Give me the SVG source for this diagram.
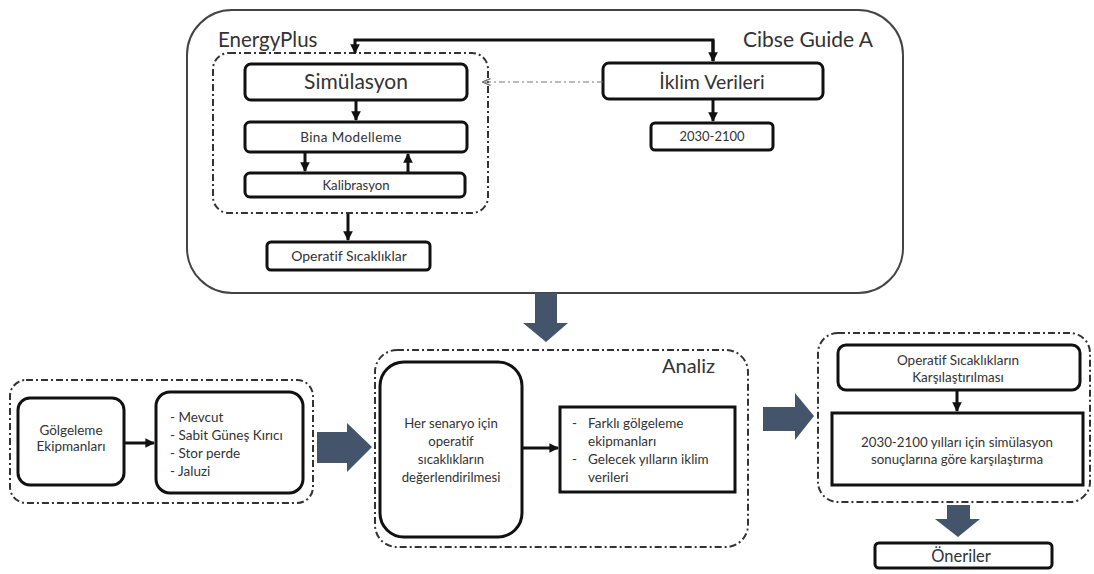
<svg xmlns="http://www.w3.org/2000/svg" width="1094" height="574" viewBox="0 0 1094 574">
<defs>
<style>
.box{fill:#fff;stroke:#111;stroke-width:3}
.grp{fill:none;stroke:#333;stroke-width:2;stroke-dasharray:7 3 2 3}
.outer{fill:#fff;stroke:#444;stroke-width:2}
.t{font-family:Lato,"Liberation Sans",sans-serif;fill:#333;text-anchor:middle;font-variant-ligatures:none}
.ts{font-family:Lato,"Liberation Sans",sans-serif;fill:#333;font-variant-ligatures:none}
.c{fill:none;stroke:#111;stroke-width:3}
.big{fill:#44546a}
</style>
<marker id="ah" viewBox="0 0 10 10" refX="9" refY="5" markerWidth="3.2" markerHeight="3.2" orient="auto" markerUnits="strokeWidth"><path d="M0,0 L10,5 L0,10 z" fill="#111"/></marker>
<marker id="ahg" viewBox="0 0 10 10" refX="9" refY="5" markerWidth="7" markerHeight="7" orient="auto" markerUnits="strokeWidth"><path d="M0,1 L10,5 L0,9" fill="none" stroke="#666" stroke-width="1.5"/></marker>
</defs>
<rect width="1094" height="574" fill="#fff"/>

<g id="energyplus-container">
<rect class="outer" x="187" y="10" width="716" height="283" rx="45" ry="45"/>
<text class="ts" x="218" y="47" font-size="20.5">EnergyPlus</text>
<text class="ts" x="743" y="47" font-size="21">Cibse Guide A</text>
</g>

<g id="simulation-group">
<rect class="grp" x="213" y="53" width="275" height="160" rx="16"/>
</g>
<g id="simulasyon"><rect class="box" x="245" y="64" width="222" height="36" rx="6"/><text class="t" x="356" y="89" font-size="21">Simülasyon</text></g>
<g id="bina-modelleme"><rect class="box" x="245" y="122" width="222" height="30" rx="5"/><text class="t" x="351" y="142" font-size="13.5" letter-spacing="0.4">Bina Modelleme</text></g>
<g id="kalibrasyon"><rect class="box" x="245" y="173" width="220" height="24" rx="5"/><text class="t" x="356" y="190" font-size="13.2">Kalibrasyon</text></g>
<g id="operatif-sicakliklar"><rect class="box" x="267" y="242" width="163" height="28" rx="4"/><text class="t" x="349" y="261" font-size="14">Operatif Sıcaklıklar</text></g>
<g id="iklim-verileri"><rect class="box" x="603" y="63" width="220" height="36" rx="6"/><text class="t" x="712" y="89" font-size="19.5">İklim Verileri</text></g>
<g id="yil-2030-2100"><rect class="box" x="651" y="123" width="122" height="27" rx="4"/><text class="t" x="712" y="141" font-size="13">2030-2100</text></g>

<g id="shading-group"><rect class="grp" x="10" y="380" width="303" height="123" rx="16"/></g>
<g id="golgeleme"><rect class="box" x="18" y="398" width="106" height="87" rx="12"/><text class="t" x="71" y="435" font-size="13.5">Gölgeleme</text><text class="t" x="71" y="451" font-size="13.5">Ekipmanları</text></g>
<g id="liste"><rect class="box" x="156" y="392" width="147" height="101" rx="14"/>
<text class="ts" x="170" y="422" font-size="13.5">- Mevcut</text>
<text class="ts" x="170" y="440" font-size="13.5">- Sabit Güneş Kırıcı</text>
<text class="ts" x="170" y="458" font-size="13.5">- Stor perde</text>
<text class="ts" x="170" y="476" font-size="13.5">- Jaluzi</text></g>

<g id="analiz-group"><rect class="grp" x="375" y="350" width="373" height="197" rx="22"/><text class="ts" x="662" y="373" font-size="20">Analiz</text></g>
<g id="her-senaryo"><rect class="box" x="380" y="362" width="142" height="175" rx="24"/>
<text class="t" x="451" y="428" font-size="13.2">Her senaryo için</text>
<text class="t" x="451" y="446" font-size="13.2">operatif</text>
<text class="t" x="451" y="464" font-size="13.2">sıcaklıkların</text>
<text class="t" x="451" y="482" font-size="13.2">değerlendirilmesi</text></g>
<g id="farkli"><rect class="box" x="560" y="407" width="175" height="85"/>
<text class="ts" x="572" y="428" font-size="13.5">-</text>
<text class="ts" x="588" y="428" font-size="13.5">Farklı gölgeleme</text>
<text class="ts" x="588" y="446" font-size="13.5">ekipmanları</text>
<text class="ts" x="572" y="464" font-size="13.5">-</text>
<text class="ts" x="588" y="464" font-size="13.5">Gelecek yılların iklim</text>
<text class="ts" x="588" y="482" font-size="13.5">verileri</text></g>

<g id="karsilastirma-group"><rect class="grp" x="818" y="333" width="272" height="169" rx="20"/></g>
<g id="operatif-karsilastirma"><rect class="box" x="838" y="345" width="242" height="45" rx="8"/>
<text class="t" x="958" y="365" font-size="13.5">Operatif Sıcaklıkların</text>
<text class="t" x="958" y="382" font-size="13.5">Karşılaştırılması</text></g>
<g id="simulasyon-karsilastirma"><rect class="box" x="832" y="413" width="251" height="72"/>
<text class="t" x="957" y="447" font-size="13.3">2030-2100 yılları için simülasyon</text>
<text class="t" x="957" y="464" font-size="13.3">sonuçlarına göre karşılaştırma</text></g>
<g id="oneriler"><rect class="box" x="875" y="543" width="177" height="25" rx="4"/><text class="t" x="961" y="562" font-size="16.5">Öneriler</text></g>

<g id="connectors">
<path class="c" d="M713,61 V40 H355 V53" marker-end="url(#ah)"/>
<path class="c" d="M713,40 V61" marker-end="url(#ah)"/>
<line x1="603" y1="82" x2="483" y2="82" stroke="#777" stroke-width="1.2" stroke-dasharray="6 3 2 3" marker-end="url(#ahg)"/>
<line class="c" x1="356" y1="100" x2="356" y2="120" marker-end="url(#ah)"/>
<line class="c" x1="305" y1="152" x2="305" y2="171" marker-end="url(#ah)"/>
<line class="c" x1="408" y1="173" x2="408" y2="154" marker-end="url(#ah)"/>
<line class="c" x1="348" y1="214" x2="348" y2="240" marker-end="url(#ah)"/>
<line class="c" x1="713" y1="99" x2="713" y2="121" marker-end="url(#ah)"/>
<line class="c" x1="124" y1="443" x2="154" y2="443" marker-end="url(#ah)"/>
<line class="c" x1="522" y1="448" x2="558" y2="448" marker-end="url(#ah)"/>
<line class="c" x1="957" y1="390" x2="957" y2="411" marker-end="url(#ah)"/>
<path class="big" d="M535,293 H557 V323 H568 L546,342 L523,323 H535 Z"/>
<path class="big" d="M317,432 H347 V423 L372,447 L347,472 V463 H317 Z"/>
<path class="big" d="M763,407 H795 V393 L814,416 L795,440 V431 H763 Z"/>
<path class="big" d="M947,505 H970 V519 H980 L958,537 L935,519 H947 Z"/>
</g>
</svg>
